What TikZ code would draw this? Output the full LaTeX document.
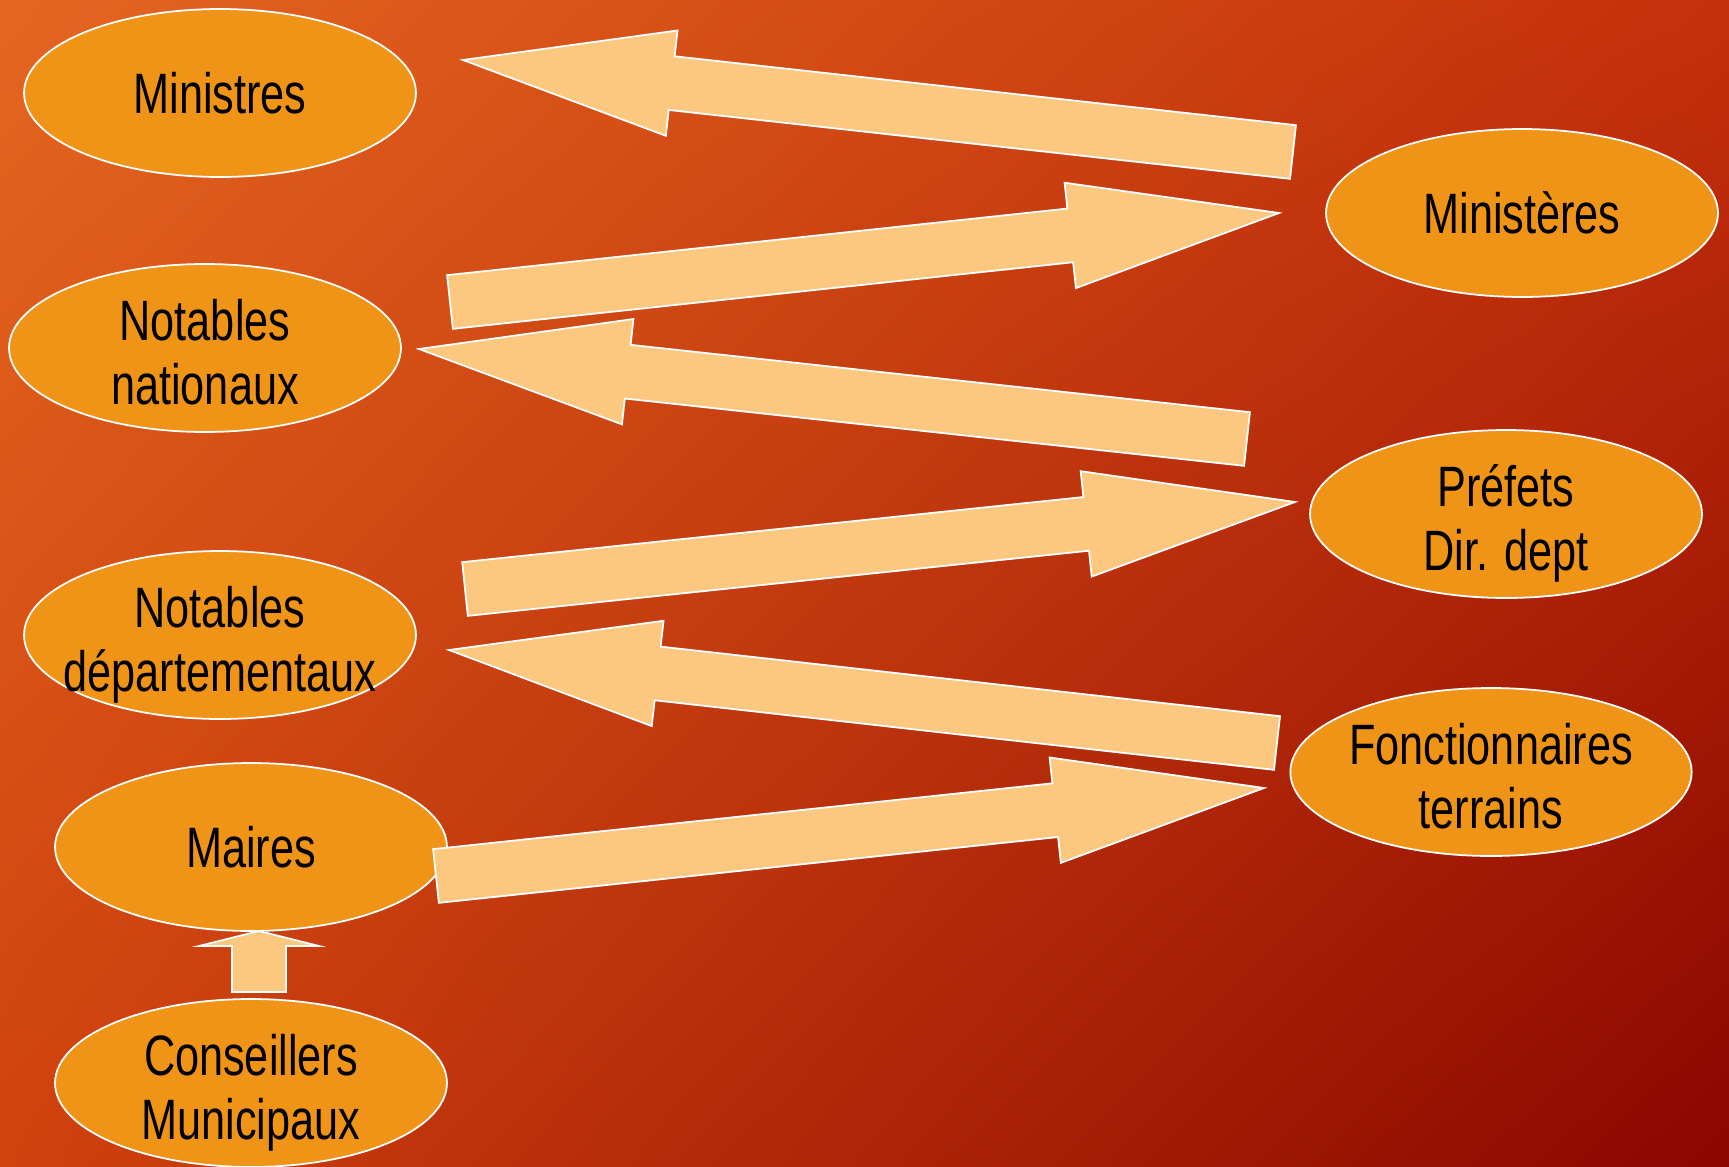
\documentclass[tikz,border=0pt]{standalone}
\usepackage{fontspec}
\setmainfont{Liberation Sans}[FakeStretch=0.76]
\usetikzlibrary{calc,shapes.geometric,shadings}
\definecolor{bgtl}{RGB}{228,102,32}
\definecolor{bgtr}{RGB}{196,48,10}
\definecolor{bgbl}{RGB}{208,66,14}
\definecolor{bgbr}{RGB}{138,6,0}
\definecolor{ovalfill}{RGB}{240,148,24}
\definecolor{arrowfill}{RGB}{252,200,128}

% strut for the first of two lines
\newcommand{\topstrut}{\rule{0pt}{27.5pt}}

% block arrow: from, to, head length, head half width
\newcommand{\blockarrow}[4]{%
  \coordinate (hb) at ($(#2)!#3!(#1)$);
  \draw[blockarr] ($(#1)!0.54cm!90:(#2)$) -- ($(hb)!0.54cm!90:(#2)$)
    -- ($(hb)!#4!90:(#2)$) -- (#2) -- ($(hb)!#4!-90:(#2)$)
    -- ($(hb)!0.54cm!-90:(#2)$) -- ($(#1)!0.54cm!-90:(#2)$) -- cycle;
}

\begin{document}
\begin{tikzpicture}[x=0.02cm, y=-0.02cm,
    oval/.style={ellipse, draw=white, line width=1pt, fill=ovalfill,
      minimum width=7.84cm, minimum height=3.36cm, inner sep=0pt,
      align=center, text depth=0pt, font=\fontsize{32.4}{36.5}\selectfont},
    blockarr/.style={draw=white, line width=1pt, fill=arrowfill, line join=miter}]
  \useasboundingbox (0,0) rectangle (1729,1167);
  \shade[upper left=bgtl, upper right=bgtr, lower left=bgbl, lower right=bgbr]
    (0,0) rectangle (1729,1167);

  % left column
  \node[oval] (ministres) at (220,93) {Ministres};
  \node[oval] (notnat) at (205,348) {\topstrut Notables\\nationaux};
  \node[oval] (notdep) at (220,635) {\topstrut Notables\\\makebox[0pt]{départementaux}};
  \node[oval] (maires) at (251,847) {Maires};
  \node[oval] (conseil) at (251,1083) {\topstrut Conseillers\\Municipaux};

  % right column
  \node[oval] (ministeres) at (1522,213) {Ministères};
  \node[oval] (prefets) at (1506,514) {\topstrut Préfets\\Dir. dept};
  \node[oval] (fonct) at (1491,772) {\topstrut Fonctionnaires\\terrains};

  % arrow ends
  \coordinate (a1s) at (1293,152);  \coordinate (a1e) at (463,60);
  \coordinate (a2s) at (450,302);   \coordinate (a2e) at (1279,213);
  \coordinate (a3s) at (1247,439);  \coordinate (a3e) at (419,349);
  \coordinate (a4s) at (465,589);   \coordinate (a4e) at (1295,502);
  \coordinate (a5s) at (1277,743);  \coordinate (a5e) at (449,650);
  \coordinate (a6s) at (436,876);   \coordinate (a6e) at (1264,788);
  \coordinate (a7s) at (259,992);   \coordinate (a7e) at (259,931);

  \blockarrow{a1s}{a1e}{4.2cm}{1.06cm}
  \blockarrow{a2s}{a2e}{4.2cm}{1.06cm}
  \blockarrow{a3s}{a3e}{4.2cm}{1.06cm}
  \blockarrow{a4s}{a4e}{4.2cm}{1.06cm}
  \blockarrow{a5s}{a5e}{4.2cm}{1.06cm}
  \blockarrow{a6s}{a6e}{4.2cm}{1.06cm}
  \blockarrow{a7s}{a7e}{0.3cm}{1.2cm}
\end{tikzpicture}
\end{document}
